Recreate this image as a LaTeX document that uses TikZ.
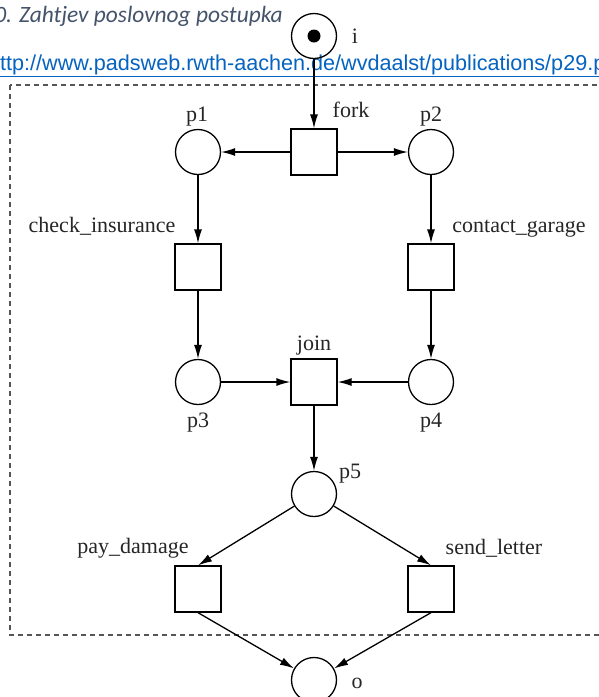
\documentclass[tikz,border=0pt]{standalone}
\usepackage{fontspec}
\setmainfont{Liberation Serif}
\newfontfamily\urlfont{Liberation Sans}
\newfontfamily\titlefont{Carlito}
\usetikzlibrary{arrows.meta}
\definecolor{urlblue}{HTML}{0563C1}
\definecolor{titlegray}{HTML}{44546A}
\definecolor{boxgray}{HTML}{555555}
\begin{document}
\begin{tikzpicture}[x=1pt,y=-1pt,
  place/.style={circle,draw,line width=1.3pt,minimum size=45pt,inner sep=0pt},
  trans/.style={rectangle,draw,line width=1.3pt,minimum size=46pt,inner sep=0pt},
  lbl/.style={anchor=base,inner sep=0pt,font=\fontsize{22}{26}\selectfont,text=black!85},
  arc/.style={line width=1.3pt,-{Latex[length=14pt,width=8pt]}},
  token/.style={circle,fill=black,minimum size=13pt,inner sep=0pt}
]
\useasboundingbox (0,0) rectangle (598,697);
\fill[white] (0,0) rectangle (598,697);

% dashed boundary
\draw[boxgray,line width=1.3pt,dash pattern=on 5pt off 4pt] (10,85) rectangle (640,635);

% title and link
\node[anchor=base east,inner sep=0pt,text=titlegray,font=\titlefont\itshape\fontsize{23.4}{27}\selectfont] (title) at (283,22) {0. Zahtjev poslovnog postupka};
\node[anchor=base west,inner sep=0pt,text=urlblue,font=\urlfont\fontsize{21.6}{25}\selectfont] (url) at (-12,70) {\underline{http://www.padsweb.rwth-aachen.de/wvdaalst/publications/p29.pdf}};

% places and transitions
\node[place] (i) at (314,36) {};
\node[token] (tok) at (i) {};
\node[trans] (fork) at (314,152) {};
\node[place] (p1) at (198,152) {};
\node[place] (p2) at (431,152) {};
\node[trans] (ci) at (198,267) {};
\node[trans] (cg) at (431,267) {};
\node[place] (p3) at (198,382) {};
\node[trans] (join) at (314,382) {};
\node[place] (p4) at (431,382) {};
\node[place] (p5) at (314,494) {};
\node[trans] (pd) at (198,589) {};
\node[trans] (sl) at (431,589) {};
\node[place] (o) at (314,680) {};

% labels
\node[lbl] (li) at (355,43) {i};
\node[lbl] (lfork) at (351,117) {fork};
\node[lbl] (lp1) at (197,121) {p1};
\node[lbl] (lp2) at (431,121) {p2};
\node[lbl] (lci) at (102,232) {check\_insurance};
\node[lbl] (lcg) at (519,232) {contact\_garage};
\node[lbl] (ljoin) at (314,350) {join};
\node[lbl] (lp3) at (198,427) {p3};
\node[lbl] (lp4) at (431,427) {p4};
\node[lbl] (lp5) at (350,478) {p5};
\node[lbl] (lpd) at (133,553) {pay\_damage};
\node[lbl] (lsl) at (494,554) {send\_letter};
\node[lbl] (lo) at (357,688) {o};

% arcs
\draw[arc] (i) -- (fork);
\draw[arc] (fork) -- (p1);
\draw[arc] (fork) -- (p2);
\draw[arc] (p1) -- (ci);
\draw[arc] (p2) -- (cg);
\draw[arc] (ci) -- (p3);
\draw[arc] (cg) -- (p4);
\draw[arc] (p3) -- (join);
\draw[arc] (p4) -- (join);
\draw[arc] (join) -- (p5);
\draw[arc] (p5) -- (pd.north);
\draw[arc] (p5) -- (sl.north);
\draw[arc] (pd.south) -- (o);
\draw[arc] (sl.south) -- (o);
\end{tikzpicture}
\end{document}
